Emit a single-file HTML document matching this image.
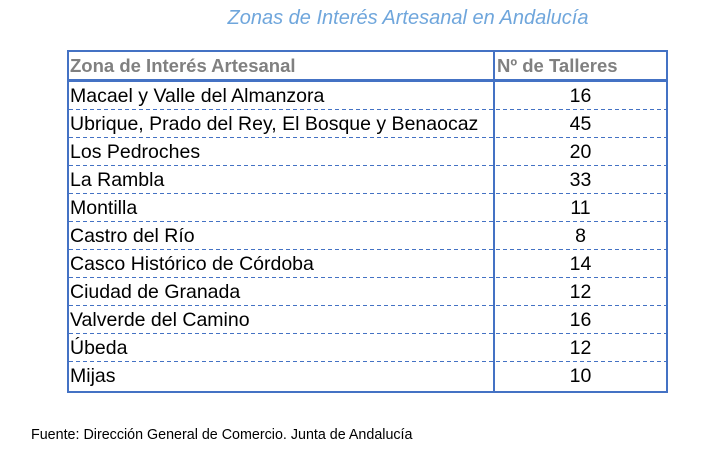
<!DOCTYPE html>
<html><head><meta charset="utf-8"><style>
body{margin:0;width:728px;height:451px;background:#fff;position:relative;overflow:hidden;font-family:"Liberation Sans",sans-serif}
.t{position:absolute;left:0;width:816px;top:7px;text-align:center;font-style:italic;color:#6fa6dc;font-size:20px}
.tab{position:absolute;left:67px;top:50px;width:597px;height:339px;border:2px solid #4472c4;box-sizing:content-box}
.div{position:absolute;left:493px;top:50px;width:2px;height:341px;background:#4472c4}
.hl{position:absolute;left:67px;width:601px;top:79px;height:3px;background:#4472c4}
.dl{position:absolute;left:69px;width:597px;height:1px;background:repeating-linear-gradient(90deg,#4472c4 0 4px,transparent 4px 7px)}
.c{position:absolute;font-size:19.5px;color:#000;line-height:28px;white-space:nowrap}
.h{color:#808080;font-weight:bold;font-size:18.5px}
.n{left:495px;width:171px;text-align:center}
.f{position:absolute;left:31px;top:427px;font-size:14.3px;color:#000}
</style></head><body>
<div class="t">Zonas de Interés Artesanal en Andalucía</div>
<div class="tab"></div>
<div class="div"></div>
<div class="hl"></div>
<div class="c h" style="left:70px;top:52px">Zona de Interés Artesanal</div>
<div class="c h" style="left:497px;top:52px">Nº de Talleres</div>
<div class="dl" style="top:109px"></div><div class="dl" style="top:137px"></div><div class="dl" style="top:165px"></div><div class="dl" style="top:193px"></div><div class="dl" style="top:221px"></div><div class="dl" style="top:249px"></div><div class="dl" style="top:277px"></div><div class="dl" style="top:305px"></div><div class="dl" style="top:333px"></div><div class="dl" style="top:361px"></div>
<div class="c" style="left:70px;top:82px">Macael y Valle del Almanzora</div><div class="c n" style="top:82px">16</div>
<div class="c" style="left:70px;top:110px">Ubrique, Prado del Rey, El Bosque y Benaocaz</div><div class="c n" style="top:110px">45</div>
<div class="c" style="left:70px;top:138px">Los Pedroches</div><div class="c n" style="top:138px">20</div>
<div class="c" style="left:70px;top:166px">La Rambla</div><div class="c n" style="top:166px">33</div>
<div class="c" style="left:70px;top:194px">Montilla</div><div class="c n" style="top:194px">11</div>
<div class="c" style="left:70px;top:222px">Castro del Río</div><div class="c n" style="top:222px">8</div>
<div class="c" style="left:70px;top:250px">Casco Histórico de Córdoba</div><div class="c n" style="top:250px">14</div>
<div class="c" style="left:70px;top:278px">Ciudad de Granada</div><div class="c n" style="top:278px">12</div>
<div class="c" style="left:70px;top:306px">Valverde del Camino</div><div class="c n" style="top:306px">16</div>
<div class="c" style="left:70px;top:334px">Úbeda</div><div class="c n" style="top:334px">12</div>
<div class="c" style="left:70px;top:362px">Mijas</div><div class="c n" style="top:362px">10</div>
<div class="f">Fuente: Dirección General de Comercio. Junta de Andalucía</div>
</body></html>
